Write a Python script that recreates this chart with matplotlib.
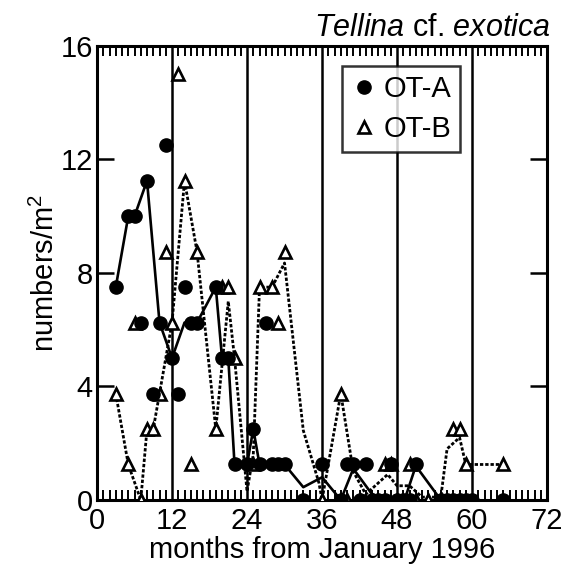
import matplotlib
matplotlib.use("Agg")
import matplotlib.pyplot as plt

plt.rcParams['font.family'] = ['Liberation Sans', 'DejaVu Sans']
plt.rcParams['mathtext.fontset'] = 'custom'
plt.rcParams['mathtext.it'] = 'Liberation Sans:italic'
plt.rcParams['mathtext.rm'] = 'Liberation Sans'

# OT-A points (filled circles)
a_x = [3, 5, 6, 7, 8, 9, 10, 11, 12, 13, 14, 15, 16, 19, 20, 21, 22, 24, 25, 26,
       27, 28, 29, 30, 33, 36, 39, 40, 41, 42, 43, 44, 45, 46, 47, 48, 49, 50,
       51, 55, 56, 57, 58, 59, 60, 65]
a_y = [7.5, 10, 10, 6.25, 11.25, 3.75, 6.25, 12.5, 5, 3.75, 7.5, 6.25, 6.25, 7.5,
       5, 5, 1.25, 1.25, 2.5, 1.25, 6.25, 1.25, 1.25, 1.25, 0, 1.25, 0, 1.25,
       1.25, 0, 1.25, 0, 0, 0, 1.25, 0, 0, 0, 1.25, 0, 0, 0, 0, 0, 0, 0]

# OT-A smoothed line (solid)
a_line_x = [3, 5, 6, 8, 10, 12, 14, 15, 16, 19, 20, 21, 22, 24, 25, 26, 28, 30,
            33, 36, 39, 41, 44, 46, 48, 49.5, 51, 55, 60]
a_line_y = [7.5, 10, 10, 11.25, 6.25, 5, 6.25, 6.25, 6.25, 7.5, 5, 5, 1.25, 1.25,
            2.5, 1.25, 1.25, 1.25, 0.45, 0.8, 0, 1.1, 0.2, 0.05, 0.0, 0.2, 1.2, 0, 0]

# OT-B points (open triangles)
b_x = [3, 5, 6, 7, 8, 9, 10, 11, 12, 13, 14, 15, 16, 19, 20, 21, 22, 25, 26, 28,
       29, 30, 36, 39, 40, 42, 44, 46, 47, 48, 50, 51, 53, 55, 57, 58, 59, 65]
b_y = [3.75, 1.25, 6.25, 0, 2.5, 2.5, 3.75, 8.75, 6.25, 15, 11.25, 1.25, 8.75,
       2.5, 7.5, 7.5, 5, 1.25, 7.5, 7.5, 6.25, 8.75, 0, 3.75, 0, 0, 0, 1.25, 1.25,
       0, 1.25, 0, 0, 0, 2.5, 2.5, 1.25, 1.25]

# OT-B smoothed line (dotted)
b_line_x = [3, 5, 7, 8, 9, 10, 12, 14, 16, 19, 21, 22, 24, 25, 26, 28, 30, 33,
            35.5, 36, 39, 41, 43, 45, 46.5, 48, 50, 52, 55, 56, 58, 59, 65]
b_line_y = [3.75, 1.25, 0, 2.5, 2.5, 3.75, 6.25, 11.25, 8.75, 2.5, 7.0, 5, 0.3,
            1.6, 7.5, 7.5, 8.35, 2.45, 0.6, 0, 3.75, 1.0, 0.2, 0.6, 0.9, 0.5, 0.5,
            0.1, 0.1, 1.8, 2.2, 1.25, 1.25]

year_lines = [12, 24, 36, 48, 60]
x_ticks = [0, 12, 24, 36, 48, 60, 72]
y_ticks = [0, 4, 8, 12, 16]

FS = 21

fig = plt.figure(figsize=(5.64, 5.74), dpi=100)
ax = fig.add_axes([0.172, 0.129, 0.798, 0.791])

for v in year_lines:
    ax.axvline(v, color='black', lw=1.8, zorder=1)

ax.plot(a_line_x, a_line_y, color='black', lw=1.9, ls='-', zorder=2,
        solid_joinstyle='round')
ax.plot(b_line_x, b_line_y, color='black', lw=2.0, ls=(0, (1.2, 0.7)), zorder=2)

ax.plot(b_x, b_y, ls='none', marker='^', ms=9, mfc='white', mec='black',
        mew=1.9, zorder=3, label='OT-B')
ax.plot(a_x, a_y, ls='none', marker='o', ms=9.5, mfc='black', mec='black',
        zorder=4, label='OT-A')

ax.set_xlim(0, 72)
ax.set_ylim(0, 16)
ax.set_xticks(x_ticks)
ax.set_yticks(y_ticks)
ax.set_xticks(range(0, 73), minor=True)
ax.tick_params(axis='x', which='minor', direction='in', length=7, width=1.4,
               top=True, bottom=True)
ax.tick_params(axis='x', which='major', direction='in', length=0, width=1.4,
               top=True, bottom=True, labelsize=FS, pad=5)
ax.tick_params(axis='y', which='major', direction='in', length=12, width=1.8,
               left=True, right=True, labelsize=FS, pad=3)
for s in ax.spines.values():
    s.set_linewidth(2.2)

ax.set_xlabel('months from January 1996', fontsize=FS, labelpad=1)
ax.set_ylabel('numbers/m$^2$', fontsize=FS, labelpad=0)

handles, labels = ax.get_legend_handles_labels()
leg = ax.legend(handles[::-1], labels[::-1], loc='upper left',
                bbox_to_anchor=(0.545, 0.955), fontsize=FS, frameon=True,
                fancybox=False, edgecolor='black', borderpad=0.3,
                handletextpad=0.2, labelspacing=0.4, handlelength=0.9,
                borderaxespad=0)
leg.get_frame().set_linewidth(1.8)
leg.set_zorder(10)

fig.text(0.977, 0.925, r'$\it{Tellina}$ cf. $\it{exotica}$', ha='right',
         va='bottom', fontsize=FS + 1)

fig.savefig('out.png', dpi=100)
